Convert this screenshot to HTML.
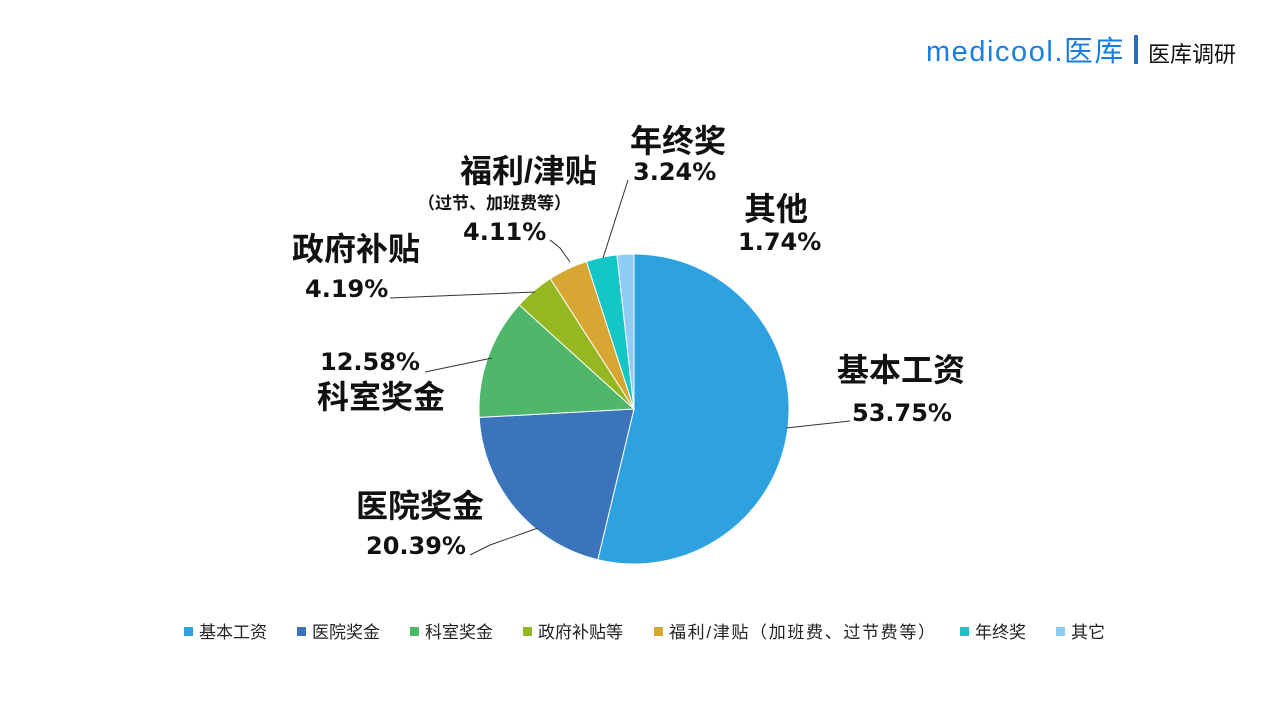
<!DOCTYPE html>
<html><head><meta charset="utf-8"><style>
html,body{margin:0;padding:0;background:#fff;width:1280px;height:720px;overflow:hidden}
svg{display:block}
text{font-family:"Liberation Sans","Noto Sans CJK SC",sans-serif}
.n{font-family:"DejaVu Sans","Noto Sans CJK SC",sans-serif}
</style></head><body>
<svg width="1280" height="720" viewBox="0 0 1280 720">
<text x="926" y="61" font-size="29" fill="#1a7de0" letter-spacing="1.6" font-family="DejaVu Sans, sans-serif" textLength="199" lengthAdjust="spacingAndGlyphs">medicool.医库</text>
<rect x="1134" y="35" width="4" height="29" fill="#2b6bbf"/>
<text x="1148" y="62" font-size="22" fill="#111">医库调研</text>
<g stroke="#fff" stroke-width="1">
<path d="M634,409 L634,254 A155,155 0 1 1 597.8,559.7 Z" fill="#2ea2e0"/>
<path d="M634,409 L597.8,559.7 A155,155 0 0 1 479.2,417.4 Z" fill="#3b74bb"/>
<path d="M634,409 L479.2,417.4 A155,155 0 0 1 519.2,304.9 Z" fill="#4fb76a"/>
<path d="M634,409 L519.2,304.9 A155,155 0 0 1 550.3,278.6 Z" fill="#94b722"/>
<path d="M634,409 L550.3,278.6 A155,155 0 0 1 586.4,261.5 Z" fill="#d8a633"/>
<path d="M634,409 L586.4,261.5 A155,155 0 0 1 617,254.9 Z" fill="#14c6c6"/>
<path d="M634,409 L617,254.9 A155,155 0 0 1 634,254 Z" fill="#8ecbf5"/>
</g>
<g stroke="#333" stroke-width="1" fill="none">
<polyline points="786,428 850,421"/>
<polyline points="538,528 490,545 470,555"/>
<polyline points="492,358 425,372"/>
<polyline points="535,292 390,298"/>
<polyline points="570,262 560,248 550,240"/>
<polyline points="603,258 628,180"/>
</g>
<g font-weight="bold" fill="#111">
<text x="837" y="381" font-size="32">基本工资</text>
<text class="n" x="852" y="421" font-size="24">53.75%</text>
<text x="356" y="517" font-size="32">医院奖金</text>
<text class="n" x="366" y="554" font-size="24">20.39%</text>
<text class="n" x="320" y="370" font-size="24">12.58%</text>
<text x="317" y="408" font-size="32">科室奖金</text>
<text x="292" y="260" font-size="32">政府补贴</text>
<text class="n" x="305" y="297" font-size="24">4.19%</text>
<text x="460" y="182" font-size="32">福利/津贴</text>
<text x="418" y="209" font-size="17">（过节、加班费等）</text>
<text class="n" x="463" y="240" font-size="24">4.11%</text>
<text x="630" y="152" font-size="32">年终奖</text>
<text class="n" x="633" y="180" font-size="24">3.24%</text>
<text x="744" y="220" font-size="32">其他</text>
<text class="n" x="738" y="250" font-size="24">1.74%</text>
</g>
<g font-size="17" fill="#222">
<rect x="184" y="627" width="9" height="9" fill="#2ea2e0"/><text x="199" y="638">基本工资</text>
<rect x="297" y="627" width="9" height="9" fill="#3b74bb"/><text x="312" y="638">医院奖金</text>
<rect x="410" y="627" width="9" height="9" fill="#4fb76a"/><text x="425" y="638">科室奖金</text>
<rect x="523" y="627" width="9" height="9" fill="#94b722"/><text x="538" y="638">政府补贴等</text>
<rect x="654" y="627" width="9" height="9" fill="#d8a633"/><text x="669" y="638" textLength="266" lengthAdjust="spacing">福利/津贴（加班费、过节费等）</text>
<rect x="960" y="627" width="9" height="9" fill="#14c6c6"/><text x="975" y="638">年终奖</text>
<rect x="1056" y="627" width="9" height="9" fill="#8ecbf5"/><text x="1071" y="638">其它</text>
</g>
</svg>
</body></html>
